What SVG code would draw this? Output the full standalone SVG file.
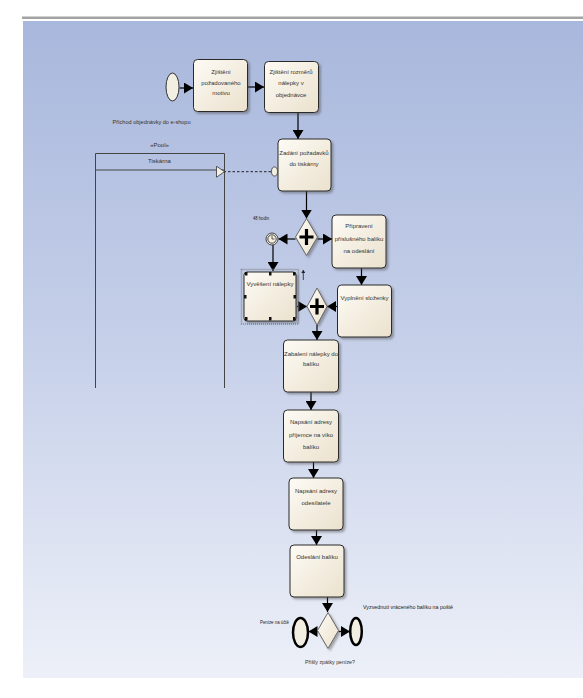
<svg xmlns="http://www.w3.org/2000/svg" width="583" height="698" viewBox="0 0 583 698">
<defs>
<linearGradient id="bg" x1="0" y1="0" x2="0" y2="1">
<stop offset="0" stop-color="#a8b7dc"/>
<stop offset="0.5" stop-color="#c6d0e9"/>
<stop offset="1" stop-color="#edf0f8"/>
</linearGradient>
<linearGradient id="tf" x1="0" y1="0" x2="1" y2="1">
<stop offset="0" stop-color="#fdfbf5"/>
<stop offset="1" stop-color="#ebe1cd"/>
</linearGradient>
<filter id="sh" x="-20%" y="-20%" width="150%" height="150%">
<feDropShadow dx="2" dy="2" stdDeviation="1.2" flood-color="#4a4a4a" flood-opacity="0.45"/>
</filter>
<marker id="ah" markerUnits="userSpaceOnUse" markerWidth="10" markerHeight="11" refX="9" refY="5.5" orient="auto">
<path d="M0,0 L9,5.5 L0,11 Z" fill="#000"/>
</marker>
<marker id="oh" markerUnits="userSpaceOnUse" markerWidth="10" markerHeight="12" refX="1" refY="6" orient="auto">
<path d="M9,0.5 L1,6 L9,11.5 Z" fill="#f4f0e6" stroke="#333" stroke-width="0.8"/>
</marker>
<marker id="sa" markerUnits="userSpaceOnUse" markerWidth="4" markerHeight="5" refX="2" refY="0" orient="0">
<path d="M0,3 L2,0 L4,3 Z" fill="#222"/>
</marker>
</defs>
<style>
.task{fill:url(#tf);stroke:#2a2a2a;stroke-width:1;filter:url(#sh)}
.gw{fill:url(#tf);stroke:#666;stroke-width:1;filter:url(#sh)}
.t{font-family:"Liberation Sans",Arial,sans-serif;font-size:6px;fill:#333;text-anchor:middle}
.lbl{font-family:"Liberation Sans",Arial,sans-serif;font-size:6px;fill:#222}
.flow{stroke:#000;stroke-width:1.2;fill:none;marker-end:url(#ah)}
.msg{stroke:#222;stroke-width:1;fill:none;stroke-dasharray:2.5 2}
.plus{stroke:#000;stroke-width:3.2}
.handle{fill:#111}
</style>
<rect x="0" y="0" width="583" height="698" fill="#fff"/>
<rect x="22" y="16.5" width="561" height="2.5" fill="#a3a3a3"/>
<rect x="23" y="21" width="560" height="657" fill="url(#bg)"/>

<g id="pool">
<path d="M95.5,388 V153.5 H224.5 V388 M95.5,170 H224.5" fill="none" stroke="#444" stroke-width="1"/>
<text class="t" x="159.5" y="147">«Pool»</text>
<text class="t" x="159.5" y="162.5">Tiskárna</text>
</g>

<g id="connectors">
<line class="flow" x1="179.5" y1="88" x2="193" y2="88"/>
<line class="flow" x1="248" y1="87" x2="264" y2="87"/>
<line class="flow" x1="298" y1="112" x2="298" y2="139"/>
<line class="flow" x1="306.5" y1="191" x2="306.5" y2="218.5"/>
<line class="flow" x1="295.5" y1="239" x2="278.5" y2="239"/>
<line class="flow" x1="317.5" y1="239" x2="332" y2="239"/>
<line class="flow" x1="361.5" y1="268" x2="361.5" y2="285"/>
<line class="flow" x1="273" y1="245" x2="273" y2="271"/>
<line class="flow" x1="297" y1="306.5" x2="307" y2="306.5"/>
<line class="flow" x1="337.5" y1="306.5" x2="327" y2="306.5"/>
<line class="flow" x1="317" y1="325" x2="317" y2="340"/>
<line class="flow" x1="311" y1="392" x2="311" y2="410"/>
<line class="flow" x1="313.5" y1="462" x2="313.5" y2="478"/>
<line class="flow" x1="316.5" y1="530" x2="316.5" y2="545"/>
<line class="flow" x1="327.5" y1="597" x2="327.5" y2="612"/>
<line class="flow" x1="317.5" y1="631.5" x2="308.5" y2="631.5"/>
<line class="flow" x1="338.5" y1="631.5" x2="350" y2="631.5"/>
<line class="msg" x1="271" y1="171.7" x2="224.5" y2="171.7" marker-end="url(#oh)"/>
<line x1="303.3" y1="280" x2="303.3" y2="270" stroke="#222" stroke-width="0.8" marker-end="url(#sa)"/>
</g>

<g id="start">
<ellipse cx="172.5" cy="87" rx="6.5" ry="14" fill="#f3eee2" stroke="#333" stroke-width="1"/>
<text class="t" x="151.5" y="124" textLength="78" lengthAdjust="spacingAndGlyphs">Příchod objednávky do e-shopu</text>
</g>

<g id="task1">
<rect class="task" x="193.5" y="59.5" width="54" height="52" rx="4"/>
<text class="t" x="221" y="74">Zjištění</text>
<text class="t" x="221" y="84.5">požadovaného</text>
<text class="t" x="221" y="95">motivu</text>
</g>

<g id="task2">
<rect class="task" x="264.5" y="61.5" width="54" height="51" rx="4"/>
<text class="t" x="291" y="74">Zjištění rozměrů</text>
<text class="t" x="291" y="85">nálepky v</text>
<text class="t" x="291" y="97">objednávce</text>
</g>

<g id="task3">
<rect class="task" x="278" y="139" width="53" height="52" rx="4"/>
<text class="t" x="304" y="155">Zadání požadavků</text>
<text class="t" x="304" y="165.5">do tiskárny</text>
<ellipse cx="274.5" cy="171.5" rx="3" ry="4.5" fill="#f3eee2" stroke="#333" stroke-width="0.8"/>
</g>

<g id="gateway1">
<path class="gw" d="M306.5,218.5 L317.5,237 L306.5,255.5 L295.5,237 Z"/>
<path class="plus" d="M299.5,237 H313.5 M306.5,229 V245"/>
</g>

<g id="timer">
<text class="lbl" x="253" y="219.5" textLength="16" lengthAdjust="spacingAndGlyphs">48 hodin</text>
<circle cx="272" cy="239" r="6" fill="#f3eee2" stroke="#333" stroke-width="0.9"/>
<circle cx="272" cy="239" r="4.2" fill="#f3eee2" stroke="#333" stroke-width="0.9"/>
<path d="M272,236 V239 H274.5" fill="none" stroke="#333" stroke-width="0.8"/>
</g>

<g id="task4">
<rect class="task" x="332" y="215" width="54" height="53" rx="4"/>
<text class="t" x="359" y="228">Připravení</text>
<text class="t" x="359" y="240.5">příslušného balíku</text>
<text class="t" x="359" y="253">na odeslání</text>
</g>

<g id="task5">
<rect class="task" x="337.5" y="285" width="54" height="52" rx="4"/>
<text class="t" x="364.5" y="300">Vyplnění složenky</text>
</g>

<g id="task6">
<rect x="241.5" y="269.5" width="57" height="54.5" fill="none" stroke="#888" stroke-width="1.5" stroke-dasharray="1 1"/>
<rect class="task" x="244" y="272" width="52" height="49" rx="3"/>
<text class="t" x="270" y="286">Vyvěšení nálepky</text>
<rect class="handle" x="245" y="272" width="2.5" height="3.5"/>
<rect class="handle" x="269" y="272" width="2.5" height="3.5"/>
<rect class="handle" x="293" y="272" width="2.5" height="3.5"/>
<rect class="handle" x="244" y="295" width="2.5" height="3.5"/>
<rect class="handle" x="293.5" y="295" width="2.5" height="3.5"/>
<rect class="handle" x="245" y="317" width="2.5" height="3.5"/>
<rect class="handle" x="269" y="317" width="2.5" height="3.5"/>
<rect class="handle" x="293" y="317" width="2.5" height="3.5"/>
</g>

<g id="gateway2">
<path class="gw" d="M317,288 L327,306.5 L317,325 L307,306.5 Z"/>
<path class="plus" d="M310,306.5 H324 M317,298.5 V314.5"/>
</g>

<g id="task7">
<rect class="task" x="283.5" y="340" width="55" height="52" rx="4"/>
<text class="t" x="311" y="355.5">Zabalení nálepky do</text>
<text class="t" x="311" y="365.5">balíku</text>
</g>

<g id="task8">
<rect class="task" x="283.5" y="410" width="55" height="52" rx="4"/>
<text class="t" x="311" y="424">Napsání adresy</text>
<text class="t" x="311" y="437">příjemce na víko</text>
<text class="t" x="311" y="449">balíku</text>
</g>

<g id="task9">
<rect class="task" x="289" y="478" width="54" height="52" rx="4"/>
<text class="t" x="316" y="493">Napsání adresy</text>
<text class="t" x="316" y="505">odesílatele</text>
</g>

<g id="task10">
<rect class="task" x="290" y="545" width="54" height="52" rx="4"/>
<text class="t" x="317" y="559">Odeslání balíku</text>
</g>

<g id="gateway3">
<path class="gw" d="M328,612.5 L338.5,630.5 L328,648.5 L317.5,630.5 Z"/>
<text class="t" x="330" y="663.5" textLength="50" lengthAdjust="spacingAndGlyphs">Přišly zpátky peníze?</text>
</g>

<g id="end1">
<ellipse cx="300.5" cy="632.5" rx="7.5" ry="14.5" fill="#f3eee2" stroke="#000" stroke-width="2.5"/>
<text class="lbl" x="260" y="623.5" textLength="29" lengthAdjust="spacingAndGlyphs">Peníze na účtě</text>
</g>

<g id="end2">
<ellipse cx="356" cy="631.5" rx="5.8" ry="13.5" fill="#f3eee2" stroke="#000" stroke-width="2.5"/>
<text class="lbl" x="363" y="608.5" textLength="90" lengthAdjust="spacingAndGlyphs">Vyzvednutí vráceného balíku na poště</text>
</g>
</svg>
